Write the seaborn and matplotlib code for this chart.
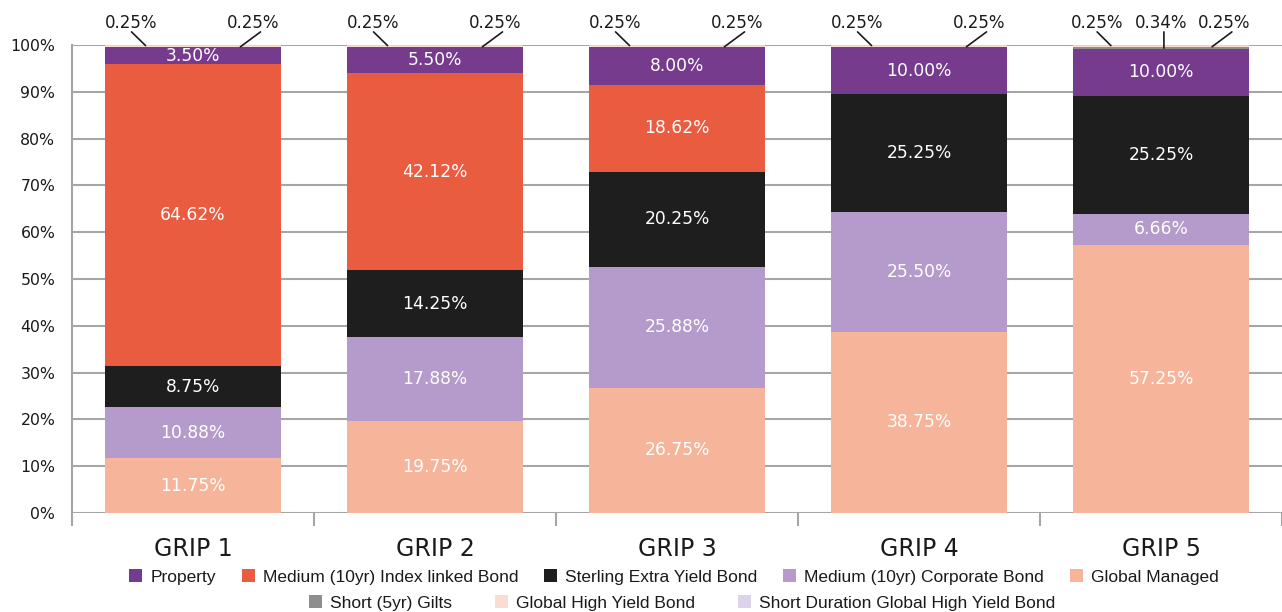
import numpy as np
import pandas as pd
import matplotlib
matplotlib.use("Agg")
import matplotlib.pyplot as plt
import matplotlib.transforms as mtransforms
from matplotlib.patches import Patch
import seaborn as sns

# ---------------- data ----------------
funds = ["GRIP 1", "GRIP 2", "GRIP 3", "GRIP 4", "GRIP 5"]
global_managed = [11.75, 19.75, 26.75, 38.75, 57.25]
corporate_bond = [10.88, 17.88, 25.88, 25.50, 6.66]
sterling_extra = [8.75, 14.25, 20.25, 25.25, 25.25]
index_linked = [64.62, 42.12, 18.62, 0.0, 0.0]
property_ = [3.50, 5.50, 8.00, 10.00, 10.00]
short_gilts = [0.0, 0.0, 0.0, 0.0, 0.34]
global_high_yield = [0.25, 0.25, 0.25, 0.25, 0.25]
short_duration_ghy = [0.25, 0.25, 0.25, 0.25, 0.25]

series_names = ["Global Managed", "Medium (10yr) Corporate Bond", "Sterling Extra Yield Bond",
                "Medium (10yr) Index linked Bond", "Property", "Short (5yr) Gilts",
                "Global High Yield Bond", "Short Duration Global High Yield Bond"]
series_values = [global_managed, corporate_bond, sterling_extra, index_linked, property_,
                 short_gilts, global_high_yield, short_duration_ghy]
colors = {
    "Global Managed": "#f6b59b",
    "Medium (10yr) Corporate Bond": "#b59bcb",
    "Sterling Extra Yield Bond": "#1e1e1e",
    "Medium (10yr) Index linked Bond": "#e95c40",
    "Property": "#773b8e",
    "Short (5yr) Gilts": "#8e8e8e",
    "Global High Yield Bond": "#fbdcd0",
    "Short Duration Global High Yield Bond": "#dcd3ea",
}
legend_row1 = ["Property", "Medium (10yr) Index linked Bond", "Sterling Extra Yield Bond",
               "Medium (10yr) Corporate Bond", "Global Managed"]
legend_row2 = ["Short (5yr) Gilts", "Global High Yield Bond", "Short Duration Global High Yield Bond"]
small_series = {"Short (5yr) Gilts", "Global High Yield Bond", "Short Duration Global High Yield Bond"}

# ---------------- style ----------------
sns.set_theme(style="white")
plt.rcParams["font.family"] = ["DejaVu Sans"]
text_color = "#1a1a1a"
grid_color = "#a6a6a6"

fig = plt.figure(figsize=(12.82, 6.12), dpi=100)
ax = fig.add_axes([72 / 1282, 99 / 612, 1210 / 1282, 468 / 612])

df = pd.DataFrame({"fund": funds})
bottom = np.zeros(len(funds))
bottoms = {}
for name, vals in zip(series_names, series_values):
    df[name] = vals
    bottoms[name] = bottom.copy()
    sns.barplot(data=df, x="fund", y=name, order=funds, color=colors[name],
                bottom=bottom.copy(), width=0.725, errorbar=None, ax=ax,
                linewidth=0, edgecolor="none", saturation=1, zorder=3)
    bottom = bottom + np.array(vals)

ax.set_xlim(-0.5, 4.5)
ax.set_ylim(0, 100)
ax.set_yticks(np.arange(0, 101, 10))
ax.set_yticklabels([f"{v}%" for v in range(0, 101, 10)])
ax.yaxis.grid(True, color=grid_color, linewidth=1.5, zorder=0)
ax.set_axisbelow(True)
ax.set_xlabel("")
ax.set_ylabel("")
for s in ["top", "right", "bottom"]:
    ax.spines[s].set_visible(False)
ax.spines["left"].set_color(grid_color)
ax.spines["left"].set_linewidth(1.5)
ax.tick_params(axis="y", length=0, pad=12, labelsize=11.3, labelcolor=text_color)

# category ticks: boundaries as major ticks, labels as minor
ax.set_xticks(np.arange(-0.5, 4.6, 1.0))
ax.set_xticklabels([])
ax.set_xticks(np.arange(0, 5), minor=True)
ax.set_xticklabels(funds, minor=True)
ax.tick_params(axis="x", which="major", length=9, width=1.5, color=grid_color, direction="out", bottom=True)
ax.tick_params(axis="x", which="minor", length=0, pad=17, labelsize=17, labelcolor=text_color)

# value labels inside bars
for name, vals in zip(series_names, series_values):
    if name in small_series:
        continue
    for i, v in enumerate(vals):
        if v <= 0:
            continue
        ax.text(i, bottoms[name][i] + v / 2, f"{v:.2f}%", ha="center", va="center",
                color="white", fontsize=12.3, zorder=5)

# leader-line labels for the small slices at the top
blend = mtransforms.blended_transform_factory(ax.transData, ax.transAxes)
label_y = 1.047
line_y = 1.028
for i in range(len(funds)):
    if short_gilts[i] > 0:
        items = [("Short Duration Global High Yield Bond", -0.264, -0.264, -0.207),
                 ("Short (5yr) Gilts", 0.0, 0.012, 0.012),
                 ("Global High Yield Bond", 0.260, 0.293, 0.211)]
    else:
        items = [("Short Duration Global High Yield Bond", -0.254, -0.254, -0.196),
                 ("Global High Yield Bond", 0.250, 0.279, 0.196)]
    for name, dx_lab, dx_start, dx_end in items:
        v = series_values[series_names.index(name)][i]
        ymid = bottoms[name][i] + v / 2
        ax.text(i + dx_lab, label_y, f"{v:.2f}%", transform=blend, ha="center", va="center",
                fontsize=12, color=text_color, clip_on=False)
        ax.annotate("", xy=(i + dx_end, ymid), xycoords="data",
                    xytext=(i + dx_start, line_y), textcoords=blend,
                    arrowprops=dict(arrowstyle="-", color=text_color, lw=1.2,
                                    shrinkA=0, shrinkB=0),
                    annotation_clip=False, zorder=6)

# legends (two centered rows)
h1 = [Patch(facecolor=colors[n], edgecolor="none", label=n) for n in legend_row1]
h2 = [Patch(facecolor=colors[n], edgecolor="none", label=n) for n in legend_row2]
common = dict(frameon=False, handlelength=0.75, handleheight=0.75, handletextpad=0.45,
              borderpad=0, borderaxespad=0,
              prop={"family": ["Liberation Sans", "DejaVu Sans"], "size": 12.5}, labelcolor=text_color)
fig.legend(handles=h1, loc="center", bbox_to_anchor=(674 / 1282, 1 - 577 / 612), ncol=5,
           columnspacing=1.5, **common)
fig.legend(handles=h2, loc="center", bbox_to_anchor=(682 / 1282, 1 - 603 / 612), ncol=3,
           columnspacing=2.5, **common)

fig.savefig("out.png", dpi=100)
